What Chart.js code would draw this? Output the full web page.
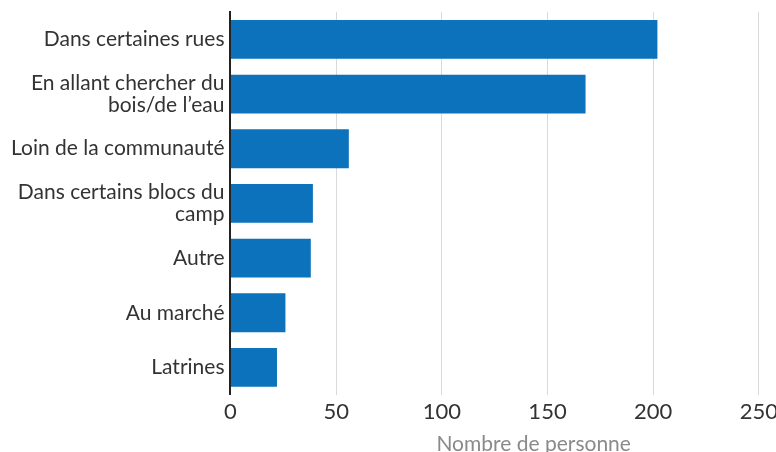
<!DOCTYPE html>
<html>
<head>
<meta charset="utf-8">
<script src="https://cdn.jsdelivr.net/npm/chart.js@4"></script>
<style>
    html, body { margin: 0; padding: 0; background: #fff; overflow: hidden; }
    #wrap { width: 784px; height: 457px; margin-top: -5px; }
</style>
</head>
<body>
<div id="wrap"><canvas id="graphique"></canvas></div>
<script>
const categories = [
    'Dans certaines rues',
    ['En allant chercher du', 'bois/de l\u2019eau'],
    'Loin de la communauté',
    ['Dans certains blocs du', 'camp'],
    'Autre',
    'Au marché',
    'Latrines'
];
const personnes = [202, 168, 56, 39, 38, 26, 22];
const ticksX = [0, 50, 100, 150, 200, 250];
const tituloX = 'Nombre de personne';

// le titre de l'axe est décalé vers la droite dans l'original
const tituloDecalado = {
    id: 'tituloDecalado',
    afterDraw(chart) {
        const c = chart.ctx;
        const area = chart.chartArea;
        const x = (area.left + area.right) / 2 + 39;
        const y = chart.scales.x.bottom - 10;
        c.save();
        c.font = '21px Lato';
        c.fillStyle = '#8a8a8a';
        c.textAlign = 'center';
        c.textBaseline = 'middle';
        c.fillText(tituloX, x, y);
        c.restore();
    }
};

function gerarGrafico() {
    const ctx = document.getElementById('graphique').getContext('2d');

    new Chart(ctx, {
        type: 'bar',
        data: {
            labels: categories,
            datasets: [
                {
                    label: tituloX,
                    backgroundColor: '#0b72bb',
                    data: personnes,
                    barPercentage: 0.71,
                    categoryPercentage: 1
                }
            ]
        },
        options: {
            indexAxis: 'y',
            responsive: true,
            maintainAspectRatio: false,
            animation: false,
            layout: { padding: { top: 7, right: 0, left: 5, bottom: -2 } },
            plugins: {
                legend: { display: false },
                tooltip: { enabled: false }
            },
            scales: {
                x: {
                    min: 0,
                    max: 250,
                    afterBuildTicks: axis => { axis.ticks = ticksX.map(v => ({ value: v })); },
                    grid: { color: '#d9d9d9', lineWidth: 1, drawTicks: false },
                    border: { display: false },
                    ticks: {
                        color: '#333',
                        padding: 6,
                        font: { family: 'Lato', size: 22, lineHeight: 1 }
                    },
                    title: {
                        display: true,
                        text: tituloX,
                        color: 'rgba(0,0,0,0)',
                        padding: { top: 0, bottom: 0 },
                        font: { family: 'Lato', size: 21 }
                    }
                },
                y: {
                    grid: { display: false, drawTicks: false },
                    border: { display: true, color: '#222', width: 2 },
                    ticks: {
                        color: '#333',
                        padding: 6,
                        font: { family: 'Lato', size: 21, lineHeight: 1.05 }
                    }
                }
            }
        },
        plugins: [tituloDecalado]
    });
}

window.addEventListener('load', () => {
    gerarGrafico();
});
</script>
</body>
</html>
